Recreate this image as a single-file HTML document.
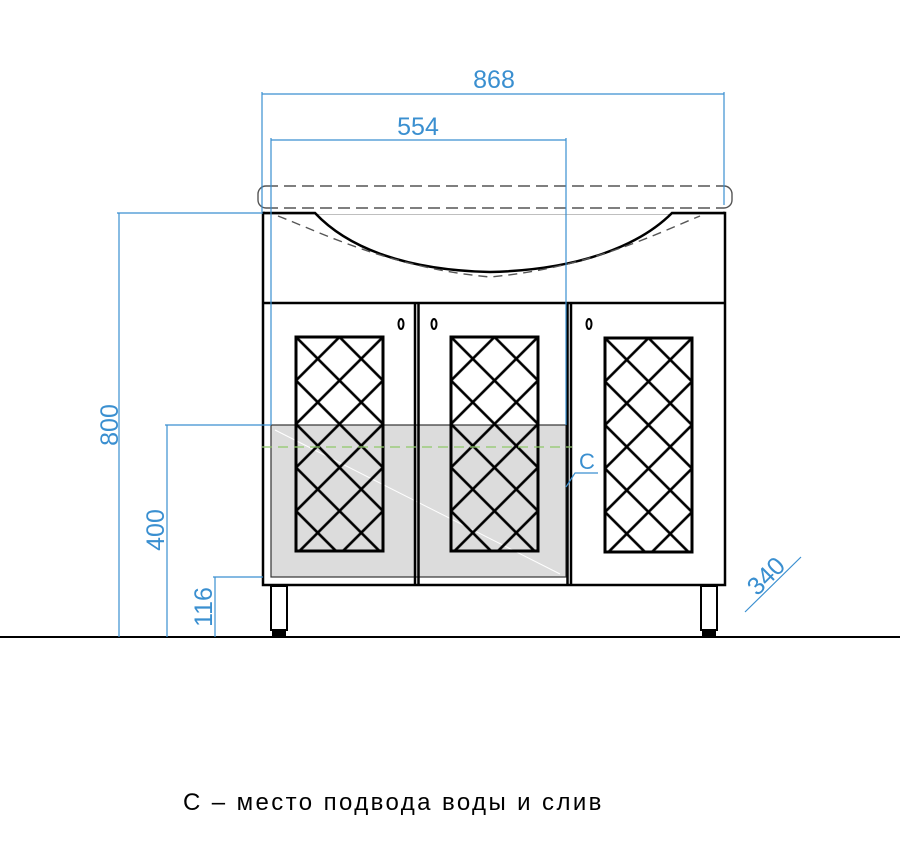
<!DOCTYPE html>
<html><head><meta charset="utf-8"><style>
html,body{margin:0;padding:0;background:#fff;}
svg{display:block;}
</style></head><body>
<svg width="900" height="844" viewBox="0 0 900 844" xmlns="http://www.w3.org/2000/svg">
<defs>
<pattern id="lat" patternUnits="userSpaceOnUse" width="43.5" height="43.5" x="-21.75" y="-21.75">
<path d="M0 0L43.5 43.5M43.5 0L0 43.5" stroke="#000" stroke-width="2.6" fill="none"/>
</pattern>
</defs>
<rect x="271" y="425" width="295" height="152" fill="#dcdcdc" stroke="#333" stroke-width="1.2"/>
<line x1="275" y1="430" x2="560" y2="574" stroke="#fff" stroke-width="1"/>
<g transform="translate(296,337)"><rect width="87" height="214" fill="url(#lat)" stroke="#000" stroke-width="3"/></g>
<g transform="translate(451,337)"><rect width="87" height="214" fill="url(#lat)" stroke="#000" stroke-width="3"/></g>
<g transform="translate(605,338)"><rect width="87" height="214" fill="url(#lat)" stroke="#000" stroke-width="3"/></g>
<g fill="none" stroke="#000" stroke-width="2.5">
<rect x="263" y="213" width="462" height="372"/>
<line x1="263" y1="303" x2="725" y2="303"/>
<line x1="415" y1="303" x2="415" y2="585"/>
<line x1="418.5" y1="303" x2="418.5" y2="585"/>
<line x1="567.5" y1="303" x2="567.5" y2="585"/>
<line x1="571" y1="303" x2="571" y2="585"/>
</g>
<rect x="265" y="205" width="458" height="9" fill="#fff"/>
<path d="M263 213H315C345 245 400 270 490 272C580 270 640 245 672 213H725" fill="none" stroke="#000" stroke-width="2.5"/>
<path d="M278 216C320 232 390 268 490 277C590 268 660 232 700 216" fill="none" stroke="#555" stroke-width="1.4" stroke-dasharray="9 6"/>
<path d="M266 186H724M266 208H724" fill="none" stroke="#555" stroke-width="1.4" stroke-dasharray="12 6"/>
<path d="M266 186A8 8 0 0 0 258 194V200A8 8 0 0 0 266 208M724 186A8 8 0 0 1 732 194V200A8 8 0 0 1 724 208" fill="none" stroke="#555" stroke-width="1.4"/>
<g fill="none" stroke="#000" stroke-width="2">
<ellipse cx="401" cy="324" rx="2.5" ry="5"/>
<ellipse cx="434" cy="324" rx="2.5" ry="5"/>
<ellipse cx="589" cy="324" rx="2.5" ry="5"/>
</g>
<g fill="#fff" stroke="#000" stroke-width="2">
<rect x="271" y="586" width="16" height="44"/>
<rect x="701" y="586" width="16" height="44"/>
</g>
<rect x="272" y="630" width="14" height="6" fill="#000"/>
<rect x="702" y="630" width="14" height="6" fill="#000"/>
<line x1="0" y1="637" x2="900" y2="637" stroke="#000" stroke-width="2"/>
<line x1="262" y1="447" x2="572" y2="447" stroke="#8fc86a" stroke-width="1.2" stroke-dasharray="10 6"/>
<g stroke="#3a8fd0" stroke-width="1.2" fill="none">
<line x1="262" y1="92" x2="262" y2="212"/>
<line x1="724" y1="92" x2="724" y2="205"/>
<line x1="262" y1="94" x2="724" y2="94"/>
<line x1="271" y1="138" x2="271" y2="425"/>
<line x1="566" y1="138" x2="566" y2="425"/>
<line x1="271" y1="140" x2="566" y2="140"/>
<line x1="117" y1="213" x2="263" y2="213"/>
<line x1="119" y1="213" x2="119" y2="637"/>
<line x1="165" y1="425" x2="271" y2="425"/>
<line x1="167" y1="425" x2="167" y2="637"/>
<line x1="213" y1="577" x2="263" y2="577"/>
<line x1="215" y1="577" x2="215" y2="637"/>
<line x1="745" y1="612" x2="801" y2="557"/>
<polyline points="566,487 575,473 598,473"/>
</g>
<g fill="#3a8fd0" font-family="Liberation Sans, sans-serif" font-size="25">
<text x="494" y="88" text-anchor="middle">868</text>
<text x="418" y="135" text-anchor="middle">554</text>
<text transform="translate(118,425) rotate(-90)" text-anchor="middle">800</text>
<text transform="translate(164,530) rotate(-90)" text-anchor="middle">400</text>
<text transform="translate(212,607) rotate(-90)" text-anchor="middle">116</text>
<text transform="translate(772,582) rotate(-45)" text-anchor="middle">340</text>
<text x="579" y="469" font-size="22">C</text>
</g>
<text x="183" y="810" font-family="Liberation Sans, sans-serif" font-size="24" fill="#000" letter-spacing="2.4">C – место подвода воды и слив</text>
</svg>
</body></html>
